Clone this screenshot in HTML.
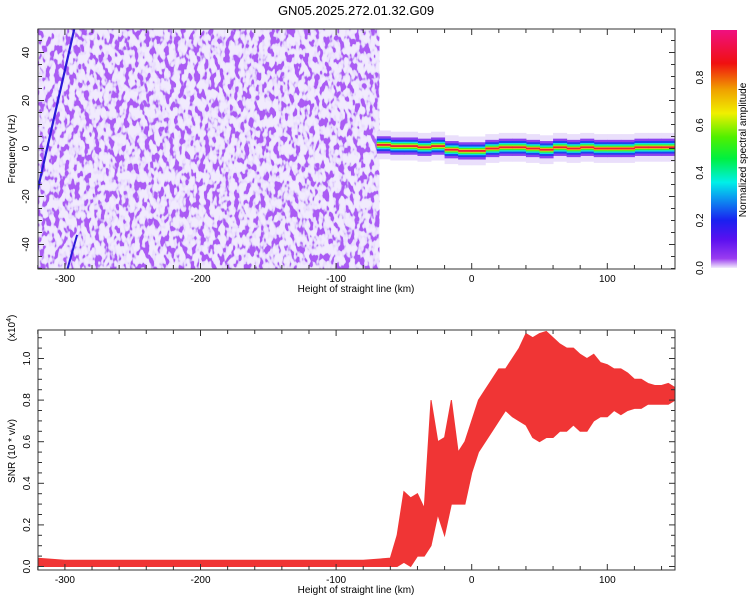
<!DOCTYPE html>
<html><head><meta charset="utf-8"><style>
body{margin:0;background:#fff;}
svg{display:block;font-family:"Liberation Sans",sans-serif;}
</style></head><body>
<svg id="c" width="750" height="600" viewBox="0 0 750 600">
<defs>
<filter id="sp" x="0" y="0" width="1" height="1" filterUnits="objectBoundingBox">
<feTurbulence type="fractalNoise" baseFrequency="0.2 0.11" numOctaves="2" seed="7" result="n"/>
<feColorMatrix in="n" type="matrix" values="0 0 0 0 0.40  0 0 0 0 0.10  0 0 0 0 0.90  12 0 0 0 -6.3" result="dark"/>
<feColorMatrix in="n" type="matrix" values="0 0 0 0 0.80  0 0 0 0 0.70  0 0 0 0 0.98  8 0 0 0 -3.3" result="mid"/>
<feFlood flood-color="#f1ebfd" result="bg"/>
<feMerge><feMergeNode in="bg"/><feMergeNode in="mid"/><feMergeNode in="dark"/></feMerge>
</filter>
<linearGradient id="cb" x1="0" y1="1" x2="0" y2="0">
<stop offset="0" stop-color="#f2ecfc"/><stop offset="0.04" stop-color="#9a3cf0"/>
<stop offset="0.12" stop-color="#5a10f0"/><stop offset="0.2" stop-color="#1a20f0"/>
<stop offset="0.3" stop-color="#0aa0f0"/><stop offset="0.36" stop-color="#00f0e8"/>
<stop offset="0.46" stop-color="#00f040"/><stop offset="0.55" stop-color="#50f000"/>
<stop offset="0.65" stop-color="#f0f000"/><stop offset="0.75" stop-color="#f0a000"/>
<stop offset="0.86" stop-color="#f01010"/><stop offset="1" stop-color="#f01080"/>
</linearGradient>
<clipPath id="ct"><rect x="38" y="29" width="637" height="240"/></clipPath>
<clipPath id="cbt"><rect x="38" y="330" width="637" height="240"/></clipPath>
</defs>
<text x="356" y="15" font-size="13" text-anchor="middle">GN05.2025.272.01.32.G09</text>
<g id="top"></g>
<g id="bot"></g>
<g id="cbar"></g>
</svg>
<script>
// ---- data ----
const xTicks = [-300, -200, -100, 0, 100];
const freqTicks = [-40, -20, 0, 20, 40];
const snrTicks = [0.0, 0.2, 0.4, 0.6, 0.8, 1.0];
const cbTicks = [0.0, 0.2, 0.4, 0.6, 0.8];
const noiseEndKm = -68;
const bandKm = [-70,-60,-50,-40,-30,-20,-10,0,10,20,30,40,50,60,70,80,90,100,110,120,130,140,150];
const bandCenter = [1.5,1,1,0.5,1,-0.5,-1,-1,0,0.5,0.5,0,-0.5,0.5,0,0.5,0,0,0,0.5,0.5,0.5,0.5];
const trailKm = [[-322,-22],[-293,50]];
const trail2Km = [[-298,-50],[-291,-36]];
const snrKm = [-320,-300,-280,-260,-240,-220,-200,-180,-160,-140,-120,-100,-80,-60,-55,-50,-45,-40,-35,-30,-25,-20,-15,-10,-5,0,5,10,15,20,25,30,35,40,45,50,55,60,65,70,75,80,85,90,95,100,105,110,115,120,125,130,135,140,145,150];
const snrMax = [0.04,0.03,0.03,0.03,0.03,0.03,0.03,0.03,0.03,0.03,0.03,0.03,0.03,0.04,0.15,0.36,0.33,0.35,0.28,0.8,0.6,0.62,0.8,0.55,0.6,0.7,0.8,0.85,0.9,0.95,0.95,1.0,1.05,1.12,1.1,1.12,1.13,1.1,1.07,1.05,1.05,1.02,1.0,1.02,0.98,0.97,0.95,0.95,0.93,0.9,0.9,0.88,0.87,0.87,0.88,0.86];
const snrMin = [0.0,0.0,0.0,0.0,0.0,0.0,0.0,0.0,0.0,0.0,0.0,0.0,0.0,0.0,0.0,0.02,0.0,0.05,0.05,0.1,0.25,0.15,0.3,0.3,0.3,0.45,0.55,0.6,0.65,0.7,0.75,0.72,0.7,0.68,0.62,0.6,0.62,0.62,0.65,0.65,0.68,0.65,0.65,0.7,0.72,0.72,0.75,0.73,0.75,0.76,0.76,0.78,0.78,0.78,0.78,0.8];
// ---- scales ----
const NS='http://www.w3.org/2000/svg';
const X0=38,X1=675;
function xs(km){return 471.7+1.356*km;}
function yf(f){return 148.5-2.4*f;}
function ys(v){return 566.5-208*v;}
function yc(v){return 268-238*v;}
function mk(tag,attrs,parent){const e=document.createElementNS(NS,tag);for(const k in attrs)e.setAttribute(k,attrs[k]);parent.appendChild(e);return e;}
const gTop=document.getElementById('top'),gBot=document.getElementById('bot'),gCbar=document.getElementById('cbar');

// top spectrogram
const nf=mk('rect',{x:X0,y:29,width:xs(noiseEndKm)-X0,height:240,filter:'url(#sp)'},gTop);


const bg=mk('g',{'clip-path':'url(#ct)'},gTop);


const layers=[[6,'#eadffb'],[3.6,'#8a40f0'],[2.6,'#2040f0'],[1.8,'#10e0e0'],[1.2,'#40f020'],[0.7,'#f0e020'],[0.4,'#f02030']];
layers.forEach(([hw,col])=>{
  for(let i=0;i<bandKm.length-1;i++){
    const r=mk('rect',{x:xs(bandKm[i]),y:yf(bandCenter[i]+hw),width:xs(bandKm[i+1])-xs(bandKm[i])+0.5,height:2.4*hw*2,fill:col},bg);
    
    
  }
});
[[trailKm,2.2,'#2a18d8'],[trail2Km,2,'#2a18d8']].forEach(([p,w,c])=>{
  const l=mk('line',{x1:xs(p[0][0]),y1:yf(p[0][1]),x2:xs(p[1][0]),y2:yf(p[1][1]),stroke:c,'stroke-width':w,'clip-path':'url(#ct)'},gTop);
  
  
});

// bottom SNR
let pts=[];
for(let i=0;i<snrKm.length;i++)pts.push(xs(snrKm[i])+','+ys(snrMax[i]));
for(let i=snrKm.length-1;i>=0;i--)pts.push(xs(snrKm[i])+','+ys(snrMin[i]));
const poly=mk('polygon',{points:pts.join(' '),fill:'#f03535',stroke:'#f03535','stroke-width':1,'clip-path':'url(#cbt)'},gBot);



// axes frames
function frame(g,y0,y1,name){
  const r=mk('rect',{x:X0,y:y0,width:X1-X0,height:y1-y0,fill:'none',stroke:'#333','stroke-width':1},g);
  
  
  for(let k=-320;k<=150;k+=20){
    const x=xs(k),len=(k%100===0)?6:4;
    mk('line',{x1:x,y1:y1,x2:x,y2:y1-len,stroke:'#333'},g);
    mk('line',{x1:x,y1:y0,x2:x,y2:y0+len,stroke:'#333'},g);
  }
  xTicks.forEach(k=>{
    const t=mk('text',{x:xs(k),y:y1+13,'font-size':10,'text-anchor':'middle'},g);t.textContent=k;
    
    
  });
  const xt=mk('text',{x:356,y:y1+23,'font-size':10,'text-anchor':'middle'},g);xt.textContent='Height of straight line (km)';
  
  
}
frame(gTop,29,269,'spectrogram-frame');
frame(gBot,330,570,'snr-frame');
for(let f=-50;f<=50;f+=5){const y=yf(f);if(y<29||y>269)continue;const l=(f%20===0)?6:4;
  mk('line',{x1:X0,y1:y,x2:X0+l,y2:y,stroke:'#333'},gTop);mk('line',{x1:X1,y1:y,x2:X1-l,y2:y,stroke:'#333'},gTop);}
freqTicks.forEach(f=>{const t=mk('text',{x:0,y:0,'font-size':10,'text-anchor':'middle',transform:`translate(29,${yf(f)}) rotate(-90)`},gTop);t.textContent=f;
  
  });
const ft=mk('text',{x:0,y:0,'font-size':10,'text-anchor':'middle',transform:'translate(15,149) rotate(-90)'},gTop);ft.textContent='Frequency (Hz)';


for(let v=0;v<=1.15;v+=0.05){const y=ys(v);if(y<330)continue;const l=(Math.round(v*100)%20===0)?6:4;
  mk('line',{x1:X0,y1:y,x2:X0+l,y2:y,stroke:'#333'},gBot);mk('line',{x1:X1,y1:y,x2:X1-l,y2:y,stroke:'#333'},gBot);}
snrTicks.forEach(v=>{const t=mk('text',{x:0,y:0,'font-size':10,'text-anchor':'middle',transform:`translate(30,${ys(v)}) rotate(-90)`},gBot);t.textContent=v.toFixed(1);
  
  });
const st=mk('text',{x:0,y:0,'font-size':10,'text-anchor':'middle',transform:'translate(15,451) rotate(-90)'},gBot);st.textContent='SNR (10 * v/v)';


const sc=mk('text',{x:0,y:0,'font-size':10,'text-anchor':'middle',transform:'translate(15,328) rotate(-90)'},gBot);sc.innerHTML='(x10<tspan font-size="7" dy="-4">4</tspan><tspan dy="4">)</tspan>';



// colorbar
const cr=mk('rect',{x:711,y:30,width:26,height:238,fill:'url(#cb)'},gCbar);


cbTicks.forEach(v=>{const t=mk('text',{x:0,y:0,'font-size':10,'text-anchor':'middle',transform:`translate(703,${yc(v)}) rotate(-90)`},gCbar);t.textContent=v.toFixed(1);
  
  });
const ct=mk('text',{x:0,y:0,'font-size':10,'text-anchor':'middle',transform:'translate(746,150) rotate(-90)'},gCbar);ct.textContent='Normalized spectral amplitude';


</script>
</body></html>
